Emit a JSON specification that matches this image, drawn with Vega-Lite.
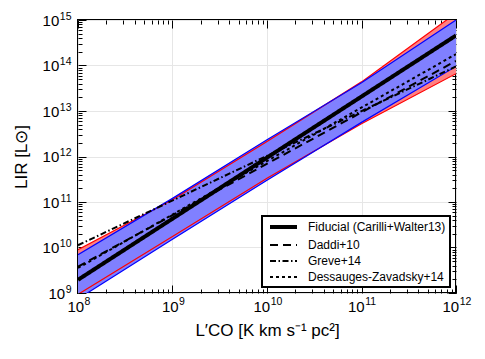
{
  "$schema": "https://vega.github.io/schema/vega-lite/v6.json",
  "width": 378,
  "height": 273,
  "autosize": "none",
  "padding": {"left": 78, "top": 20, "right": 29, "bottom": 66},
  "background": "white",
  "config": {
    "view": {"stroke": "black", "strokeWidth": 2},
    "font": "Liberation Sans",
    "axis": {"domain": false, "tickColor": "black", "labelColor": "black", "titleColor": "black", "labelFont": "Liberation Sans", "titleFont": "Liberation Sans", "titleFontWeight": "normal", "labelOverlap": false, "labelBound": false, "labelFlush": false}
  },
  "datasets": {
    "bands": [
      {"x": 1e8, "rlo": 9.33e8, "rhi": 8.91e9, "blo": 7.41e8, "bhi": 6.92e9},
      {"x": 1e9, "rlo": 1.738e10, "rhi": 1.122e11, "blo": 1.514e10, "bhi": 1.202e11},
      {"x": 1e10, "rlo": 3.311e11, "rhi": 2.138e12, "blo": 3.02e11, "bhi": 2.344e12},
      {"x": 1e11, "rlo": 5.248e12, "rhi": 4.365e13, "blo": 5.623e12, "bhi": 4.169e13},
      {"x": 1e12, "rlo": 6.61e13, "rhi": 1.413e15, "blo": 9.55e13, "bhi": 1.0e15}
    ],
    "models": [
      {"model": "Fiducial (Carilli+Walter13)", "x": 1e8, "y": 1.95e9},
      {"model": "Fiducial (Carilli+Walter13)", "x": 1e12, "y": 4.571e14},
      {"model": "Daddi+10", "x": 1e8, "y": 3.802e9},
      {"model": "Daddi+10", "x": 1e12, "y": 1.259e14},
      {"model": "Greve+14", "x": 1e8, "y": 1.122e10},
      {"model": "Greve+14", "x": 1e12, "y": 9.55e13},
      {"model": "Dessauges-Zavadsky+14", "x": 1e8, "y": 3.548e9},
      {"model": "Dessauges-Zavadsky+14", "x": 1e12, "y": 1.778e14}
    ]
  },
  "layer": [
    {
      "data": {"name": "bands"},
      "mark": {"type": "area", "color": "#ff8080", "clip": true},
      "encoding": {
        "x": {"field": "x", "type": "quantitative", "scale": {"type": "log", "domain": [1e8, 1e12], "nice": false},
          "axis": {"orient": "bottom", "offset": 0, "values": [1e8, 1e9, 1e10, 1e11, 1e12], "labelExpr": "'10'", "tickSize": -8, "labelPadding": 26, "labelFontSize": 15, "labelAlign": "right", "labelBaseline": "alphabetic", "labelOffset": {"condition": {"test": "datum.value < 5e9", "value": 5.6}, "value": 2.7}, "grid": true, "gridColor": "#e6e6e6", "title": "L′CO [K km s⁻¹ pc²]", "titleFontSize": 17, "titlePadding": 8}},
        "y": {"field": "rlo", "type": "quantitative", "scale": {"type": "log", "domain": [1e9, 1e15], "nice": false},
          "axis": {"orient": "left", "offset": 0, "values": [1e9, 1e10, 1e11, 1e12, 1e13, 1e14, 1e15], "labelExpr": "'10'", "tickSize": -8, "labelPadding": {"condition": {"test": "datum.value < 5e9", "value": 21.3}, "value": 27.2}, "labelFontSize": 15, "labelAlign": "right", "labelBaseline": "middle", "grid": true, "gridColor": "#e6e6e6", "title": "LIR [L⊙]", "titleFontSize": 17, "titlePadding": 12}},
        "y2": {"field": "rhi"}
      }
    },
    {
      "data": {"name": "bands"},
      "mark": {"type": "area", "color": "#8080ff", "clip": true},
      "encoding": {
        "x": {"field": "x", "type": "quantitative", "axis": {"orient": "top", "offset": 0, "values": [1e8, 1e9, 1e10, 1e11, 1e12], "tickSize": -8, "labels": false, "grid": false, "title": null}},
        "y": {"field": "blo", "type": "quantitative", "axis": {"orient": "right", "offset": 0, "values": [1e9, 1e10, 1e11, 1e12, 1e13, 1e14, 1e15], "tickSize": -8, "labels": false, "grid": false, "title": null}},
        "y2": {"field": "bhi"}
      }
    },
    {
      "data": {"name": "bands"},
      "transform": [{"fold": ["rlo", "rhi"], "as": ["edge", "val"]}],
      "mark": {"type": "line", "strokeWidth": 1.2, "color": "#ff0000", "clip": true},
      "encoding": {
        "x": {"field": "x", "type": "quantitative", "axis": {"orient": "bottom", "offset": 0, "values": [1e8, 1e9, 1e10, 1e11, 1e12], "labelExpr": "format(round(log(datum.value)/LN10), 'd')", "ticks": false, "tickSize": 0, "labelPadding": 11, "labelFontSize": 10.5, "labelAlign": "left", "labelBaseline": "alphabetic", "labelOffset": {"condition": {"test": "datum.value < 5e9", "value": 6.1}, "value": 3.2}, "grid": false, "title": null}},
        "y": {"field": "val", "type": "quantitative", "axis": {"orient": "left", "offset": 0, "values": [1e9, 1e10, 1e11, 1e12, 1e13, 1e14, 1e15], "labelExpr": "format(round(log(datum.value)/LN10), 'd')", "ticks": false, "tickSize": 0, "labelPadding": 7, "labelFontSize": 10.5, "labelAlign": "right", "labelBaseline": "alphabetic", "labelOffset": -1, "grid": false, "title": null}},
        "detail": {"field": "edge"}
      }
    },
    {
      "data": {"name": "bands"},
      "transform": [{"fold": ["blo", "bhi"], "as": ["edge", "val"]}],
      "mark": {"type": "line", "strokeWidth": 1.2, "color": "#0000ff", "clip": true},
      "encoding": {
        "x": {"field": "x", "type": "quantitative", "axis": {"orient": "bottom", "offset": 0, "values": [2e8,3e8,4e8,5e8,6e8,7e8,8e8,9e8,2e9,3e9,4e9,5e9,6e9,7e9,8e9,9e9,2e10,3e10,4e10,5e10,6e10,7e10,8e10,9e10,2e11,3e11,4e11,5e11,6e11,7e11,8e11,9e11], "tickSize": -4, "labels": false, "grid": false, "title": null}},
        "y": {"field": "val", "type": "quantitative", "axis": {"orient": "left", "offset": 0, "values": [2e9,3e9,4e9,5e9,6e9,7e9,8e9,9e9,2e10,3e10,4e10,5e10,6e10,7e10,8e10,9e10,2e11,3e11,4e11,5e11,6e11,7e11,8e11,9e11,2e12,3e12,4e12,5e12,6e12,7e12,8e12,9e12,2e13,3e13,4e13,5e13,6e13,7e13,8e13,9e13,2e14,3e14,4e14,5e14,6e14,7e14,8e14,9e14], "tickSize": -4, "labels": false, "grid": false, "title": null}},
        "detail": {"field": "edge"}
      }
    },
    {
      "data": {"name": "models"},
      "mark": {"type": "line", "color": "black", "clip": true},
      "encoding": {
        "x": {"field": "x", "type": "quantitative", "axis": {"orient": "top", "offset": 0, "values": [2e8,3e8,4e8,5e8,6e8,7e8,8e8,9e8,2e9,3e9,4e9,5e9,6e9,7e9,8e9,9e9,2e10,3e10,4e10,5e10,6e10,7e10,8e10,9e10,2e11,3e11,4e11,5e11,6e11,7e11,8e11,9e11], "tickSize": -4, "labels": false, "grid": false, "title": null}},
        "y": {"field": "y", "type": "quantitative", "axis": {"orient": "right", "offset": 0, "values": [2e9,3e9,4e9,5e9,6e9,7e9,8e9,9e9,2e10,3e10,4e10,5e10,6e10,7e10,8e10,9e10,2e11,3e11,4e11,5e11,6e11,7e11,8e11,9e11,2e12,3e12,4e12,5e12,6e12,7e12,8e12,9e12,2e13,3e13,4e13,5e13,6e13,7e13,8e13,9e13,2e14,3e14,4e14,5e14,6e14,7e14,8e14,9e14], "tickSize": -4, "labels": false, "grid": false, "title": null}},
        "strokeDash": {"field": "model", "type": "nominal",
          "scale": {"domain": ["Fiducial (Carilli+Walter13)", "Daddi+10", "Greve+14", "Dessauges-Zavadsky+14"], "range": [[1, 0], [8, 5], [6, 2.5, 1.5, 2.5], [3, 3]]},
          "legend": {"title": null, "orient": "bottom-right", "offset": 6, "padding": 4, "strokeColor": "black", "fillColor": "white", "labelFont": "Liberation Sans", "labelFontSize": 12, "labelColor": "black", "symbolType": "M-2.7,0H2.7", "symbolSize": 100, "symbolOffset": 10.5, "labelOffset": 17.5, "rowPadding": 4, "symbolStrokeColor": "black", "labelLimit": 300, "encode": {"legend": {"update": {"strokeWidth": {"value": 2}}}}}},
        "strokeWidth": {"field": "model", "type": "nominal",
          "scale": {"type": "ordinal", "domain": ["Fiducial (Carilli+Walter13)", "Daddi+10", "Greve+14", "Dessauges-Zavadsky+14"], "range": [4, 2, 2, 2]},
          "legend": {"title": null, "orient": "bottom-right", "offset": 6, "padding": 4, "strokeColor": "black", "fillColor": "white", "labelFont": "Liberation Sans", "labelFontSize": 12, "labelColor": "black", "symbolType": "M-2.7,0H2.7", "symbolSize": 100, "symbolOffset": 10.5, "labelOffset": 17.5, "rowPadding": 4, "symbolStrokeColor": "black", "labelLimit": 300, "encode": {"legend": {"update": {"strokeWidth": {"value": 2}}}}}}
      }
    }
  ],
  "resolve": {"axis": {"x": "independent", "y": "independent"}}
}
